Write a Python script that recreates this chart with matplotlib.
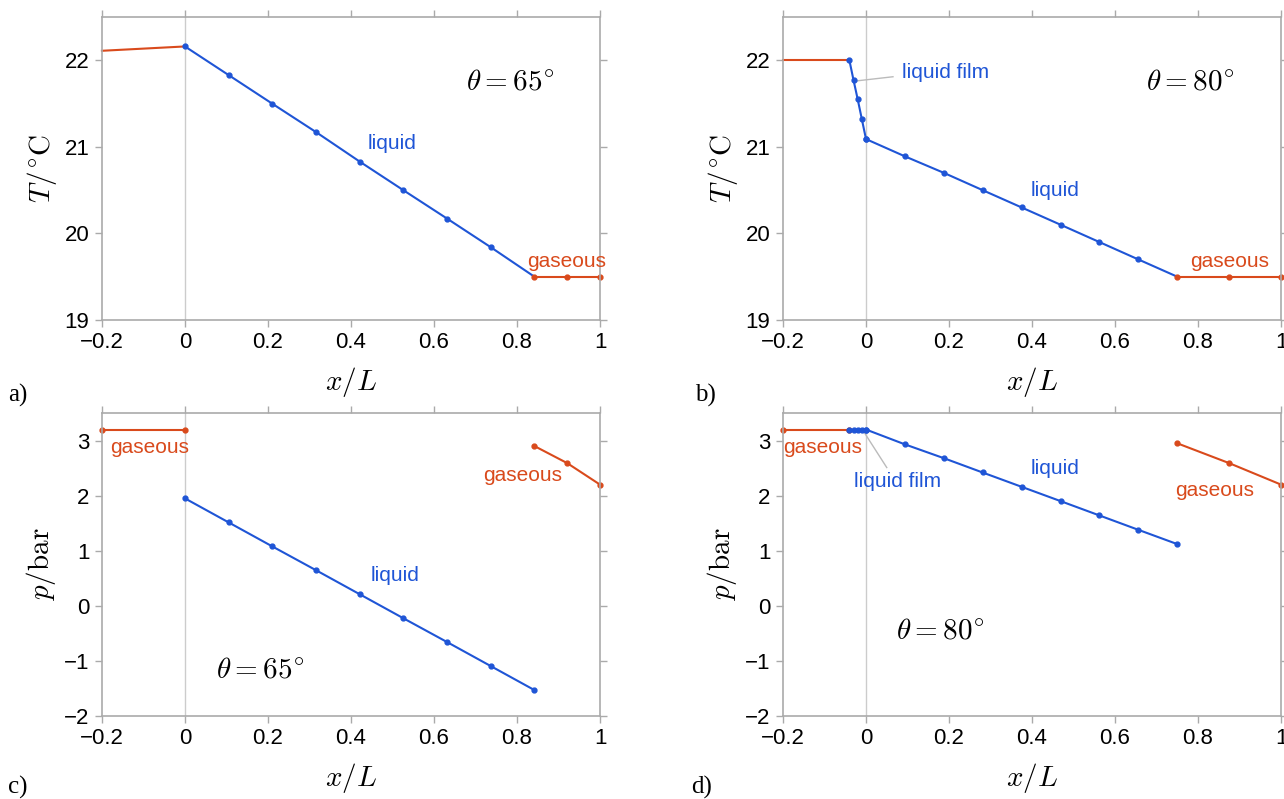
import numpy as np
import matplotlib.pyplot as plt

plt.rcParams['mathtext.fontset'] = 'cm'
plt.rcParams['font.family'] = 'Liberation Sans'

blue = '#1f55d6'
red = '#d94a1c'
frame = '#aaaaaa'

# panel a: temperature, theta = 65
a_gas_l_x = [-0.2, 0.0]
a_gas_l_T = [22.11, 22.16]
a_liq_x = [0.0, 0.105, 0.21, 0.316, 0.421, 0.526, 0.632, 0.737, 0.842]
a_liq_T = [22.16, 21.83, 21.5, 21.17, 20.83, 20.5, 20.17, 19.84, 19.5]
a_gas_r_x = [0.842, 0.921, 1.0]
a_gas_r_T = [19.5, 19.5, 19.5]

# panel b: temperature, theta = 80
b_gas_l_x = [-0.2, -0.04]
b_gas_l_T = [22.0, 22.0]
b_film_x = [-0.04, -0.03, -0.02, -0.01, 0.0]
b_film_T = [22.0, 21.77, 21.55, 21.32, 21.09]
b_liq_x = [0.0, 0.094, 0.1875, 0.281, 0.375, 0.469, 0.5625, 0.656, 0.75]
b_liq_T = [21.09, 20.89, 20.7, 20.5, 20.3, 20.1, 19.9, 19.7, 19.5]
b_gas_r_x = [0.75, 0.875, 1.0]
b_gas_r_T = [19.5, 19.5, 19.5]

# panel c: pressure, theta = 65
c_gas_l_x = [-0.2, 0.0]
c_gas_l_p = [3.2, 3.2]
c_liq_x = a_liq_x
c_liq_p = [1.95, 1.515, 1.08, 0.645, 0.21, -0.225, -0.66, -1.095, -1.53]
c_gas_r_x = [0.842, 0.921, 1.0]
c_gas_r_p = [2.9, 2.59, 2.2]

# panel d: pressure, theta = 80
d_gas_l_x = [-0.2, -0.04]
d_gas_l_p = [3.2, 3.2]
d_film_x = b_film_x
d_film_p = [3.2, 3.2, 3.2, 3.2, 3.2]
d_liq_x = b_liq_x
d_liq_p = [3.2, 2.93, 2.68, 2.42, 2.16, 1.9, 1.64, 1.38, 1.12]
d_gas_r_x = [0.75, 0.875, 1.0]
d_gas_r_p = [2.95, 2.59, 2.2]

xticks = [-0.2, 0, 0.2, 0.4, 0.6, 0.8, 1]
xticklabels = ['\u22120.2', '0', '0.2', '0.4', '0.6', '0.8', '1']

fig = plt.figure(figsize=(12.84, 7.99), dpi=100)
W = 0.3879
H = 0.3792
ax_a = fig.add_axes([0.0794, 0.5995, W, H])
ax_b = fig.add_axes([0.6098, 0.5995, W, H])
ax_c = fig.add_axes([0.0794, 0.1039, W, H])
ax_d = fig.add_axes([0.6098, 0.1039, W, H])


def style(ax, ylim, yticks, yticklabels, ylabel):
    ax.set_xlim(-0.2, 1)
    ax.set_ylim(*ylim)
    ax.set_xticks(xticks)
    ax.set_xticklabels(xticklabels)
    ax.set_yticks(yticks)
    ax.set_yticklabels(yticklabels)
    ax.tick_params(direction='out', length=5, width=1, color=frame,
                   labelsize=16, top=True, right=True, pad=4)
    for s in ax.spines.values():
        s.set_color(frame)
        s.set_linewidth(1.2)
    ax.axvline(0, color='#cccccc', lw=1, zorder=0)
    ax.set_xlabel('$x/L$', fontsize=21, labelpad=8)
    ax.set_ylabel(ylabel, fontsize=21, labelpad=4)


def line(ax, x, y, c, mark=True, **kw):
    ax.plot(x, y, color=c, lw=1.5, marker='o' if mark else None, ms=3.5,
            clip_on=False, **kw)


T_lab = r'$T/^{\circ}\mathrm{C}$'
p_lab = r'$p/\mathrm{bar}$'
style(ax_a, (19, 22.5), [19, 20, 21, 22], ['19', '20', '21', '22'], T_lab)
style(ax_b, (19, 22.5), [19, 20, 21, 22], ['19', '20', '21', '22'], T_lab)
ylab_p = ['\u22122', '\u22121', '0', '1', '2', '3']
style(ax_c, (-2, 3.5), [-2, -1, 0, 1, 2, 3], ylab_p, p_lab)
style(ax_d, (-2, 3.5), [-2, -1, 0, 1, 2, 3], ylab_p, p_lab)

th65 = r'$\theta = \mathsf{65}^{\circ}$'
th80 = r'$\theta = \mathsf{80}^{\circ}$'

# a
line(ax_a, a_gas_l_x, a_gas_l_T, red, mark=False)
line(ax_a, a_liq_x[:-1], a_liq_T[:-1], blue)
ax_a.plot(a_liq_x[-2:], a_liq_T[-2:], color=blue, lw=1.5)
line(ax_a, a_gas_r_x, a_gas_r_T, red)
ax_a.text(0.783, 21.75, th65, fontsize=21, ha='center', va='center')
ax_a.text(0.50, 21.04, 'liquid', color=blue, fontsize=15, ha='center', va='center')
ax_a.text(0.92, 19.68, 'gaseous', color=red, fontsize=15, ha='center', va='center')

# b
line(ax_b, b_gas_l_x, b_gas_l_T, red, mark=False)
line(ax_b, b_film_x, b_film_T, blue)
line(ax_b, b_liq_x[:-1], b_liq_T[:-1], blue)
ax_b.plot(b_liq_x[-2:], b_liq_T[-2:], color=blue, lw=1.5)
line(ax_b, b_gas_r_x, b_gas_r_T, red)
ax_b.plot([-0.0265, 0.065], [21.76, 21.81], color='#bbbbbb', lw=1, zorder=1)
ax_b.text(0.087, 21.86, 'liquid film', color=blue, fontsize=15, ha='left', va='center')
ax_b.text(0.78, 21.75, th80, fontsize=21, ha='center', va='center')
ax_b.text(0.455, 20.5, 'liquid', color=blue, fontsize=15, ha='center', va='center')
ax_b.text(0.877, 19.68, 'gaseous', color=red, fontsize=15, ha='center', va='center')

# c
line(ax_c, c_gas_l_x, c_gas_l_p, red)
line(ax_c, c_liq_x, c_liq_p, blue)
line(ax_c, c_gas_r_x, c_gas_r_p, red)
ax_c.text(-0.084, 2.87, 'gaseous', color=red, fontsize=15, ha='center', va='center')
ax_c.text(0.814, 2.36, 'gaseous', color=red, fontsize=15, ha='center', va='center')
ax_c.text(0.506, 0.55, 'liquid', color=blue, fontsize=15, ha='center', va='center')
ax_c.text(0.18, -1.15, th65, fontsize=21, ha='center', va='center')

# d
line(ax_d, d_gas_l_x, d_gas_l_p, red)
line(ax_d, d_film_x, d_film_p, blue)
line(ax_d, d_liq_x, d_liq_p, blue)
line(ax_d, d_gas_r_x, d_gas_r_p, red)
ax_d.plot([-0.007, 0.05], [3.18, 2.51], color='#bbbbbb', lw=1, zorder=1)
ax_d.text(-0.104, 2.87, 'gaseous', color=red, fontsize=15, ha='center', va='center')
ax_d.text(0.077, 2.25, 'liquid film', color=blue, fontsize=15, ha='center', va='center')
ax_d.text(0.455, 2.49, 'liquid', color=blue, fontsize=15, ha='center', va='center')
ax_d.text(0.178, -0.45, th80, fontsize=21, ha='center', va='center')
ax_d.text(0.839, 2.09, 'gaseous', color=red, fontsize=15, ha='center', va='center')

# panel letters
for lab, x, y in [('a)', 0.006, 0.49), ('b)', 0.541, 0.49),
                  ('c)', 0.006, 0.0), ('d)', 0.538, 0.0)]:
    fig.text(x, y, lab, fontsize=18, family='Liberation Serif', ha='left', va='bottom')

fig.savefig('out.png', dpi=100)
